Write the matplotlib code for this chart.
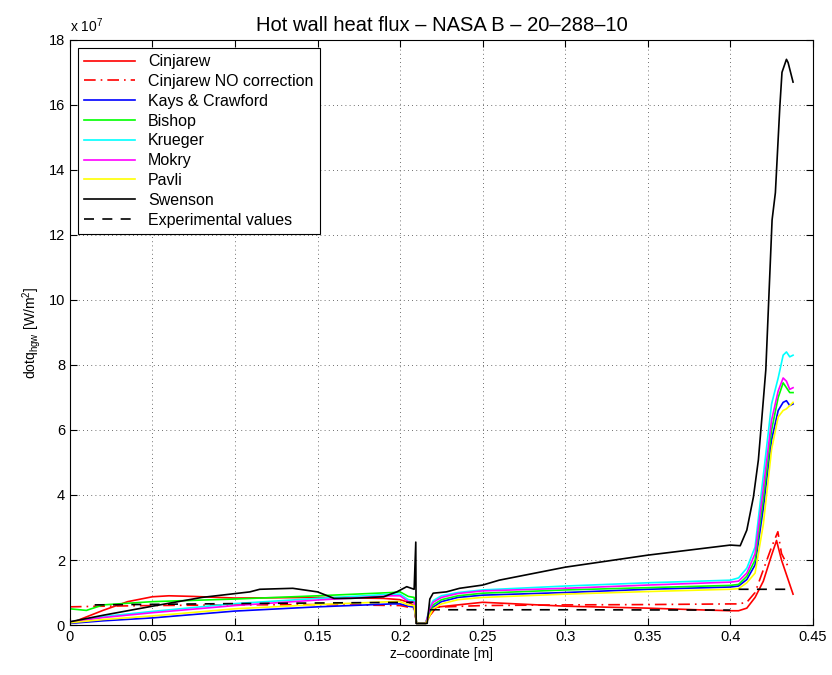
# Hot wall heat flux, NASA B 20-288-10: comparison of correlations
import matplotlib.pyplot as plt
import numpy as np

plt.rcParams['font.family'] = ['Liberation Sans', 'DejaVu Sans']

# heat flux values are in units of 1e7 W/m^2
# shared z grid for the smooth correlations
z_c = [0.0, 0.01, 0.02, 0.05, 0.1, 0.15, 0.195, 0.2, 0.205, 0.2085,
       0.21, 0.2155, 0.218, 0.22, 0.225, 0.235, 0.25, 0.3, 0.35, 0.4,
       0.405, 0.41, 0.415, 0.42, 0.425, 0.429, 0.432, 0.434, 0.436, 0.438]
kays = [0.05, 0.09, 0.13, 0.22, 0.43, 0.56, 0.65, 0.65, 0.58, 0.55,
        0.05, 0.05, 0.4, 0.55, 0.72, 0.85, 0.92, 1.0, 1.1, 1.17,
        1.2, 1.4, 1.85, 3.6, 5.7, 6.6, 6.85, 6.9, 6.75, 6.8]
bishop = [0.5, 0.45, 0.62, 0.72, 0.8, 0.9, 1.0, 1.02, 0.88, 0.85,
          0.05, 0.05, 0.45, 0.62, 0.78, 0.9, 0.98, 1.08, 1.15, 1.22,
          1.25, 1.5, 2.0, 3.9, 6.0, 7.0, 7.45, 7.3, 7.15, 7.15]
krueger = [0.1, 0.18, 0.26, 0.42, 0.66, 0.82, 0.95, 0.95, 0.78, 0.75,
           0.05, 0.05, 0.55, 0.75, 0.9, 1.0, 1.08, 1.2, 1.3, 1.38,
           1.45, 1.75, 2.4, 4.6, 6.8, 7.6, 8.3, 8.4, 8.25, 8.3]
mokry = [0.1, 0.16, 0.23, 0.38, 0.6, 0.77, 0.9, 0.9, 0.72, 0.7,
         0.05, 0.05, 0.5, 0.7, 0.85, 0.97, 1.05, 1.13, 1.23, 1.32,
         1.35, 1.6, 2.2, 4.2, 6.3, 7.2, 7.6, 7.5, 7.25, 7.3]
pavli = [0.07, 0.12, 0.17, 0.28, 0.5, 0.63, 0.72, 0.72, 0.62, 0.6,
         0.05, 0.05, 0.3, 0.5, 0.65, 0.78, 0.85, 0.95, 1.03, 1.1,
         1.12, 1.3, 1.6, 3.1, 5.4, 6.4, 6.6, 6.65, 6.75, 6.85]

z_cin = [0.0, 0.01, 0.02, 0.035, 0.05, 0.06, 0.075, 0.1, 0.15, 0.19,
         0.2, 0.205, 0.2085, 0.21, 0.2155, 0.218, 0.222, 0.25, 0.3, 0.35,
         0.38, 0.4, 0.405, 0.41, 0.415, 0.42, 0.425, 0.428, 0.4295, 0.431, 0.438]
cinjarew = [0.05, 0.25, 0.45, 0.72, 0.87, 0.9, 0.88, 0.83, 0.85, 0.82,
            0.78, 0.7, 0.6, 0.05, 0.05, 0.3, 0.55, 0.7, 0.58, 0.52,
            0.47, 0.44, 0.44, 0.52, 0.85, 1.35, 2.15, 2.6, 2.3, 2.0, 0.95]

z_nc = [0.0, 0.02, 0.05, 0.1, 0.15, 0.2, 0.205, 0.2085, 0.21, 0.2155,
        0.218, 0.222, 0.25, 0.3, 0.35, 0.4, 0.405, 0.41, 0.415, 0.42,
        0.425, 0.4288, 0.431, 0.434, 0.436]
cinjarew_nc = [0.56, 0.58, 0.6, 0.62, 0.63, 0.6, 0.55, 0.5, 0.05, 0.05,
               0.3, 0.55, 0.6, 0.62, 0.63, 0.65, 0.65, 0.7, 1.0, 1.7,
               2.4, 2.87, 2.2, 1.9, 1.7]

z_sw = [0.0, 0.02, 0.05, 0.08, 0.109, 0.115, 0.135, 0.15, 0.16, 0.17,
        0.19, 0.198, 0.204, 0.2085, 0.2095, 0.2097, 0.2164, 0.218, 0.22, 0.228,
        0.236, 0.25, 0.26, 0.3, 0.35, 0.4, 0.406, 0.41, 0.414, 0.417,
        0.419, 0.4215, 0.4253, 0.4273, 0.43, 0.4313, 0.434, 0.435, 0.438]
swenson = [0.1, 0.3, 0.58, 0.85, 1.02, 1.1, 1.13, 1.02, 0.82, 0.82,
           0.87, 1.02, 1.18, 1.1, 2.55, 0.05, 0.05, 0.8, 0.98, 1.02,
           1.13, 1.23, 1.38, 1.78, 2.15, 2.46, 2.44, 2.92, 3.94, 5.08,
           6.3, 7.85, 12.46, 13.3, 15.95, 17.0, 17.4, 17.3, 16.7]

z_exp = [0.015, 0.1, 0.208, np.nan, 0.218, 0.3, 0.4, np.nan, 0.405, 0.435]
experimental = [0.62, 0.66, 0.7, np.nan, 0.47, 0.47, 0.46, np.nan, 1.1, 1.1]

xtick_vals = [0, 0.05, 0.1, 0.15, 0.2, 0.25, 0.3, 0.35, 0.4, 0.45]
xtick_labels = ['0', '0.05', '0.1', '0.15', '0.2', '0.25', '0.3', '0.35', '0.4', '0.45']
ytick_vals = [0, 2, 4, 6, 8, 10, 12, 14, 16, 18]

fig = plt.figure(figsize=(8.32, 6.75), dpi=100)
ax = fig.add_axes([0.084, 0.074, 0.893, 0.867])

lw = 1.2
ax.plot(z_cin, cinjarew, color='#ff0000', lw=lw, label='Cinjarew')
ax.plot(z_nc, cinjarew_nc, color='#ff0000', lw=lw, linestyle=(0, (7, 3, 1, 3)),
        label='Cinjarew NO correction')
ax.plot(z_c, kays, color='#0000ff', lw=lw, label='Kays & Crawford')
ax.plot(z_c, bishop, color='#00ff00', lw=lw, label='Bishop')
ax.plot(z_c, krueger, color='#00ffff', lw=lw, label='Krueger')
ax.plot(z_c, mokry, color='#ff00ff', lw=lw, label='Mokry')
ax.plot(z_c, pavli, color='#ffff00', lw=lw, label='Pavli')
ax.plot(z_sw, swenson, color='k', lw=lw, label='Swenson')
ax.plot(z_exp, experimental, color='k', lw=lw, linestyle=(0, (6, 5)),
        label='Experimental values')

ax.set_xlim(0, 0.45)
ax.set_ylim(0, 18)
ax.set_xticks(xtick_vals)
ax.set_xticklabels(xtick_labels)
ax.set_yticks(ytick_vals)
ax.tick_params(direction='in', top=True, right=True, labelsize=10.5, length=5)
ax.grid(True, color='0.25', linestyle=(0, (1, 4)), lw=0.6)

ax.set_title('Hot wall heat flux – NASA B – 20–288–10', fontsize=14.5, pad=6)
ax.set_xlabel('z–coordinate [m]', fontsize=10, labelpad=2)
ax.set_ylabel(r'dotq$_{\mathregular{hgw}}$ [W/m$^{\mathregular{2}}$]', fontsize=10, labelpad=4)
ax.text(0.0, 1.008, r'x 10$^{\mathregular{7}}$', transform=ax.transAxes, fontsize=10,
        ha='left', va='bottom')

leg = ax.legend(loc='upper left', fontsize=11.5, handlelength=3.2, labelspacing=0.3,
                fancybox=False, framealpha=1, edgecolor='k', borderaxespad=0.5)
leg.get_frame().set_linewidth(0.8)

fig.savefig('out.png', dpi=100)
